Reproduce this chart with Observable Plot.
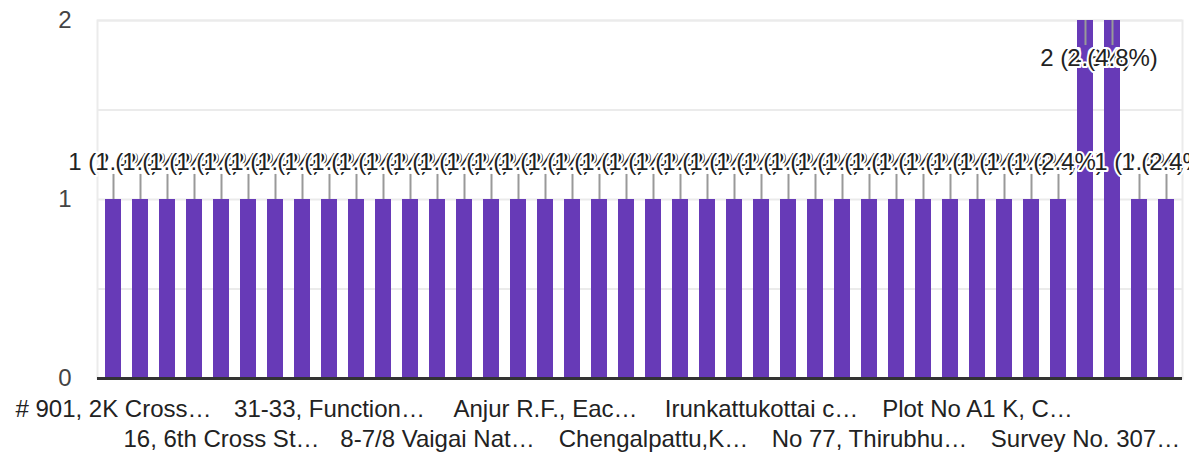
<!DOCTYPE html>
<html><head><meta charset="utf-8">
<script src="https://cdn.jsdelivr.net/npm/d3@7"></script>
<script src="https://cdn.jsdelivr.net/npm/@observablehq/plot@0.6"></script>
<style>body{margin:0;background:#fff;} svg{display:block;}</style>
</head><body><div id="chart"></div>
<script>
// Response counts per category (40 categories, alphabetical order)
const counts = [1,1,1,1,1,1,1,1,1,1,1,1,1,1,1,1,1,1,1,1,1,1,1,1,1,1,1,1,1,1,1,1,1,1,1,1,2,2,1,1];
// Visible (truncated) tick labels, shown every 4th category
const tickIndices = [0,4,8,12,16,20,24,28,32,36];
const tickLabels = ["# 901, 2K Cross…","16, 6th Cross St…","31-33, Function…","8-7/8 Vaigai Nat…","Anjur R.F., Eac…","Chengalpattu,K…","Irunkattukottai c…","No 77, Thirubhu…","Plot No A1 K, C…","Survey No. 307…"];
const yTicks = [0,1,2];
const yGrid = [0.5,1,1.5,2];

const total = d3.sum(counts);
const data = counts.map((v,i)=>({i, v, label: `${v} (${(v/total*100).toFixed(1)}%)`}));
const labelMap = new Map(tickIndices.map((t,k)=>[t, tickLabels[k]]));
const row1 = tickIndices.filter((_,k)=>k%2===0);
const row2 = tickIndices.filter((_,k)=>k%2===1);
const maxV = d3.max(counts);
const lead = 0.14;
const font = "Arial, 'Liberation Sans', sans-serif";

const chart = Plot.plot({
  width:1189, height:453,
  marginTop:20, marginBottom:75, marginLeft:97, marginRight:7,
  style:{fontFamily:font, fontSize:"24px", color:"#333", background:"#fff"},
  x:{type:"band", domain:d3.range(counts.length), paddingInner:0.41, paddingOuter:0.2, axis:null},
  y:{domain:[0,maxV], axis:null},
  marks:[
    Plot.gridY(yGrid, {stroke:"#ebebeb", strokeOpacity:1, strokeWidth:2}),
    Plot.frame({stroke:"#ebebeb", strokeWidth:2}),
    Plot.barY(data, {x:"i", y:"v", fill:"#673ab7"}),
    Plot.ruleY([0], {stroke:"#333", strokeWidth:3}),
    Plot.axisY(yTicks, {tickSize:0, tickPadding:26, fontSize:24, fill:"#444", label:null, tickFormat:"d"}),
    Plot.axisX(row1, {tickSize:0, tickPadding:21, fontSize:24, fill:"#222", label:null, tickFormat:i=>labelMap.get(i)}),
    Plot.axisX(row2, {tickSize:0, tickPadding:51, fontSize:24, fill:"#222", label:null, tickFormat:i=>labelMap.get(i)}),
    Plot.ruleX(data, {x:"i", y1:"v", y2:d=> d.v===maxV ? d.v-lead : d.v+lead, stroke:"#999", strokeWidth:2}),
    Plot.text(data.filter(d=>d.v<maxV), {x:"i", y:"v", text:"label", dy:-37, fontSize:24, fill:"#222", stroke:"white", strokeWidth:4}),
    Plot.text(data.filter(d=>d.v===maxV), {x:"i", y:"v", text:"label", dy:38, fontSize:24, fill:"#222", stroke:"white", strokeWidth:4})
  ]
});
document.getElementById("chart").appendChild(chart);
</script>
</body></html>
